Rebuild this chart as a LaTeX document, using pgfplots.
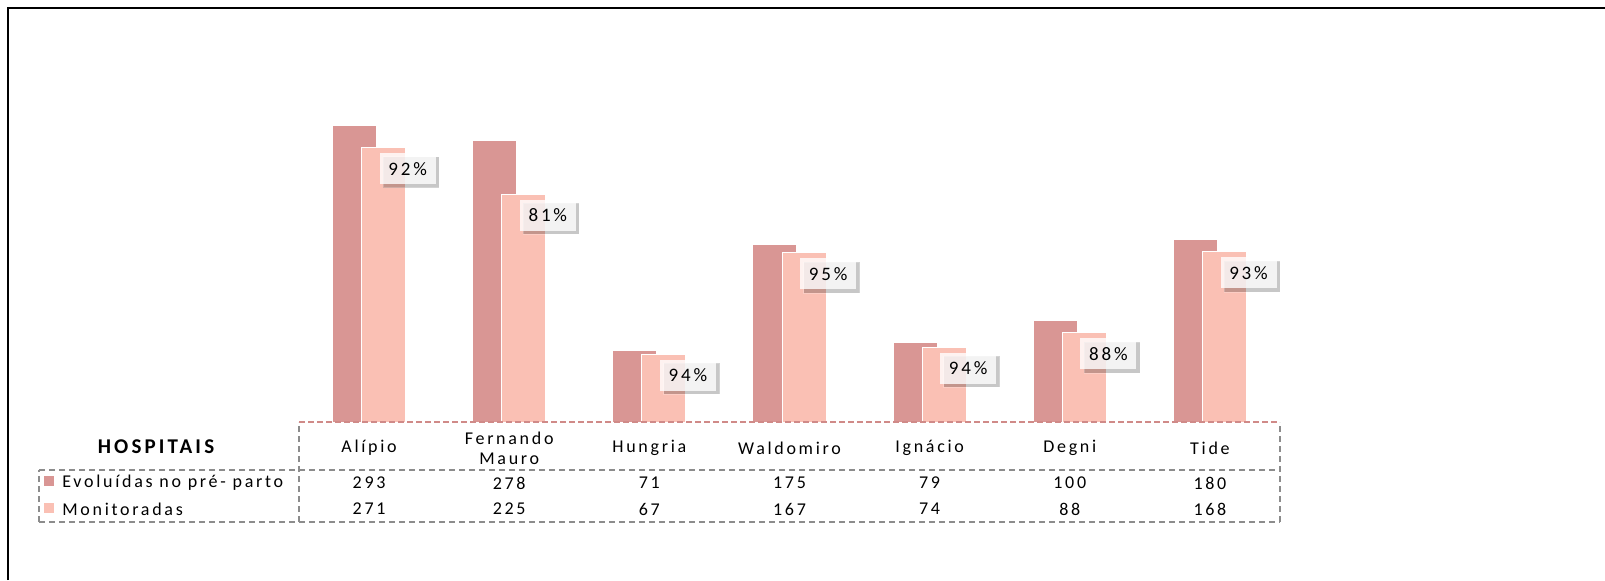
\documentclass[border=0pt]{standalone}
\usepackage{pgfplots}
\usepackage{pgfplotstable}
\pgfplotsset{compat=1.18}
\usepackage{fontspec}
\setmainfont{Carlito}[LetterSpace=15]
\usetikzlibrary{shadows}

\definecolor{evo}{HTML}{D99694}
\definecolor{mon}{HTML}{FAC0B4}
\definecolor{gridgray}{HTML}{8C8C8C}
\definecolor{basered}{HTML}{D08A88}

\pgfplotstableread{
x evo mon pct
0 293 271 92
1 278 225 81
2 71  67  94
3 175 167 95
4 79  74  94
5 100 88  88
6 180 168 93
}\datatable

\begin{document}
\begin{tikzpicture}[x=0.5pt, y=0.5pt, font=\fontsize{9}{10}\selectfont]
\begin{axis}[
    at={(149.5pt,79pt)}, anchor=south west,
    scale only axis,
    width=490.5pt, height=202.5pt,
    xmin=-0.5, xmax=6.5, ymin=0, ymax=400,
    hide y axis,
    axis line style={draw=none},
    xtick=data,
    xticklabels={Alípio,{Fernando\\Mauro},Hungria,Waldomiro,Ignácio,Degni,Tide},
    xticklabel style={font=\fontsize{9}{10}\selectfont, align=center, anchor=center, yshift=-13pt},
    major tick length=0pt,
    ybar=0pt, bar width=22pt,
    clip=false,
]
\addplot[fill=evo, draw=white, line width=0.5pt, bar shift=-7.3pt]
    table[x=x, y=evo] {\datatable};
\addplot[fill=mon, draw=white, line width=0.5pt, bar shift=7.3pt,
    point meta=explicit symbolic,
    nodes near coords={\pgfplotspointmeta\%},
    every node near coord/.append style={
        font=\fontsize{9.5}{10}\selectfont, text=black,
        anchor=north, xshift=12pt, yshift=-2.5pt,
        fill=white, fill opacity=0.8, text opacity=1,
        minimum width=28pt, minimum height=15.5pt, inner sep=1pt,
        drop shadow={fill=black, opacity=0.22, shadow xshift=1.8pt, shadow yshift=-1.8pt}}]
    table[x=x, y=mon, meta=pct] {\datatable};
\end{axis}

% table frame
\begin{scope}[gridgray, line width=0.6pt, dash pattern=on 3pt off 2pt]
\draw (299,58) -- (299,158);
\draw (1280,58) -- (1280,158);
\draw (39,110) -- (1280,110);
\draw (39,58) -- (1280,58);
\draw (39,58) -- (39,110);
\end{scope}
\draw[basered, line width=0.8pt, dash pattern=on 3pt off 1.5pt] (299,158) -- (1280,158);

\node[font=\bfseries\fontsize{10.5}{11}\selectfont] at (156,133) {HOSPITAIS};
\fill[evo] (44,94) rectangle (54,104);
\fill[mon] (44,67) rectangle (54,77);
\node[anchor=west, inner sep=0pt] at (62,97) {Evoluídas no pré- parto};
\node[anchor=west, inner sep=0pt] at (62,71) {Monitoradas};

\foreach \i in {0,...,6}{
  \pgfplotstablegetelem{\i}{evo}\of\datatable
  \node at ({299+140.143*(\i+0.5)},97) {\pgfplotsretval};
  \pgfplotstablegetelem{\i}{mon}\of\datatable
  \node at ({299+140.143*(\i+0.5)},71) {\pgfplotsretval};
}

% outer frame
\draw[black, line width=1.2pt] (8,0) -- (8,572) -- (1605,572);

\pgfresetboundingbox
\useasboundingbox (0,0) rectangle (1605,580);
\end{tikzpicture}
\end{document}
